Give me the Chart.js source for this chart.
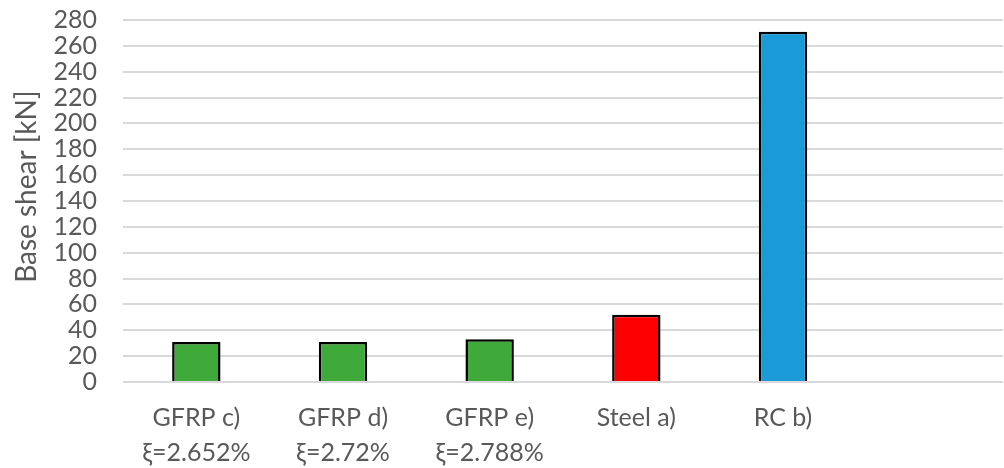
<!DOCTYPE html>
<html>
<head>
<meta charset="utf-8">
<script src="https://cdn.jsdelivr.net/npm/chart.js@4"></script>
<style>
  html, body { margin: 0; padding: 0; background: #fff; }
  #wrap { width: 1004px; height: 468px; }
</style>
</head>
<body>
<div id="wrap"><canvas id="chart" width="1004" height="468"></canvas></div>
<script>
// data
const categories = [
  ["GFRP c)", "\u03BE=2.652%"],
  ["GFRP d)", "\u03BE=2.72%"],
  ["GFRP e)", "\u03BE=2.788%"],
  "Steel a)",
  "RC b)",
  ""
];
const baseShear = [31, 31, 33, 52, 271, null];
const barColors = ["#3FAA3A", "#3FAA3A", "#3FAA3A", "#FF0000", "#1A9AD6", "#fff"];
const yTitle = "Base shear [kN]";
const Y_MIN = 0, Y_MAX = 280, Y_STEP = 20;

const TEXT = "#595959";
const FONT = "Lato, 'Open Sans', sans-serif";

new Chart(document.getElementById("chart"), {
  type: "bar",
  data: {
    labels: categories,
    datasets: [{
      data: baseShear,
      backgroundColor: barColors,
      borderColor: "#000",
      borderWidth: 2.5,
      categoryPercentage: 1,
      barPercentage: 0.33
    }]
  },
  options: {
    responsive: false,
    devicePixelRatio: 1,
    animation: false,
    layout: { padding: { top: 20, right: 1, left: 0, bottom: 0 } },
    plugins: { legend: { display: false }, tooltip: { enabled: false } },
    scales: {
      x: {
        grid: { display: false, drawTicks: false },
        border: { display: false },
        ticks: {
          color: TEXT,
          font: { family: FONT, size: 25, lineHeight: 1.4 },
          padding: 18,
          maxRotation: 0,
          autoSkip: false
        },
        afterFit: s => { s.height = 86; s.paddingLeft = 0; s.paddingRight = 0; }
      },
      y: {
        min: Y_MIN,
        max: Y_MAX,
        grid: { color: "#d9d9d9", lineWidth: 2, drawTicks: false },
        border: { display: false },
        ticks: {
          stepSize: Y_STEP,
          autoSkip: false,
          color: TEXT,
          font: { family: FONT, size: 25, lineHeight: 1 },
          padding: 26
        },
        title: {
          display: true,
          // leading spaces nudge the rotated title up a little, like the original
          text: "\u00A0\u00A0\u00A0\u00A0" + yTitle,
          color: TEXT,
          font: { family: FONT, size: 28 },
          padding: { top: 10, bottom: 0 }
        },
        afterFit: s => { s.width = 123; s.paddingTop = 0; s.paddingBottom = 0; }
      }
    }
  }
});
</script>
</body>
</html>
